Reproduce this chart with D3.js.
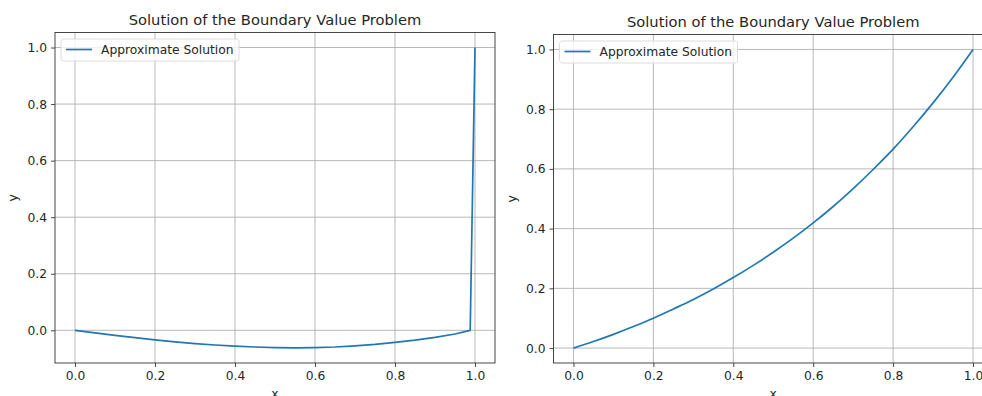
<!DOCTYPE html>
<html>
<head>
<meta charset="utf-8">
<script src="https://cdn.jsdelivr.net/npm/d3@7"></script>
<style>
  html, body { margin: 0; padding: 0; background: #fff; overflow: hidden; }
  svg { display: block; font-family: "DejaVu Sans", sans-serif; }
</style>
</head>
<body>
<svg id="chart" width="982" height="396"></svg>
<script>
// ---- data ----
const titleText = "Solution of the Boundary Value Problem";
const legendLabel = "Approximate Solution";
const xTicks = [0.0, 0.2, 0.4, 0.6, 0.8, 1.0];
const yTicks = [0.0, 0.2, 0.4, 0.6, 0.8, 1.0];

const leftX = [0.0, 0.05, 0.1, 0.15, 0.2, 0.25, 0.3, 0.35, 0.4, 0.45, 0.5, 0.55, 0.6, 0.65, 0.7, 0.75, 0.8, 0.85, 0.9, 0.95, 0.988, 1.0];
const leftY = [0.0, -0.009, -0.018, -0.026, -0.034, -0.041, -0.047, -0.052, -0.056, -0.059, -0.061, -0.062, -0.061, -0.059, -0.055, -0.050, -0.043, -0.035, -0.025, -0.013, 0.0, 1.0];

const rightX = [0.0, 0.05, 0.1, 0.15, 0.2, 0.25, 0.3, 0.35, 0.4, 0.45, 0.5, 0.55, 0.6, 0.65, 0.7, 0.75, 0.8, 0.85, 0.9, 0.95, 1.0];
const rightY = [0.0, 0.022, 0.046, 0.072, 0.100, 0.131, 0.163, 0.198, 0.236, 0.277, 0.321, 0.368, 0.419, 0.474, 0.534, 0.598, 0.666, 0.741, 0.821, 0.907, 1.0];

// ---- drawing ----
const svg = d3.select("#chart");
const lineColor = "#1f77b4";
const textColor = "#262626";
const tickFont = "12.3px";
const titleFont = "14.7px";

const panels = [
  { xs: leftX, ys: leftY, curve: d3.curveLinear, left: 55, right: 495, top: 32.5, bottom: 363, xDom: [-0.05, 1.05], yDom: [-0.1156, 1.0531], titleY: 25, ylabX: 17 },
  { xs: rightX, ys: rightY, curve: d3.curveMonotoneX, left: 553.5, right: 993, top: 34.5, bottom: 363, xDom: [-0.05, 1.05], yDom: [-0.05, 1.05], titleY: 27, ylabX: 516 }
];

panels.forEach(p => {
  const x = d3.scaleLinear().domain(p.xDom).range([p.left, p.right]);
  const y = d3.scaleLinear().domain(p.yDom).range([p.bottom, p.top]);
  const g = svg.append("g");

  // grid
  g.append("g").selectAll("line").data(xTicks).join("line")
    .attr("x1", d => x(d)).attr("x2", d => x(d))
    .attr("y1", p.top).attr("y2", p.bottom)
    .attr("stroke", "#b0b0b0").attr("stroke-width", 0.9);
  g.append("g").selectAll("line").data(yTicks).join("line")
    .attr("x1", p.left).attr("x2", p.right)
    .attr("y1", d => y(d)).attr("y2", d => y(d))
    .attr("stroke", "#b0b0b0").attr("stroke-width", 0.9);

  // line
  const data = p.xs.map((v, i) => [v, p.ys[i]]);
  g.append("path").datum(data)
    .attr("fill", "none").attr("stroke", lineColor).attr("stroke-width", 1.7)
    .attr("stroke-linejoin", "round").attr("stroke-linecap", "butt")
    .attr("d", d3.line().x(d => x(d[0])).y(d => y(d[1])).curve(p.curve));

  // axes
  const xAxis = d3.axisBottom(x).tickValues(xTicks).tickFormat(d3.format(".1f")).tickSize(4).tickPadding(4);
  const yAxis = d3.axisLeft(y).tickValues(yTicks).tickFormat(d3.format(".1f")).tickSize(4).tickPadding(4);
  const gx = g.append("g").attr("transform", `translate(0,${p.bottom})`).call(xAxis);
  const gy = g.append("g").attr("transform", `translate(${p.left},0)`).call(yAxis);
  [gx, gy].forEach(a => {
    a.select(".domain").remove();
    a.selectAll(".tick line").attr("stroke", "#333").attr("stroke-width", 0.9);
    a.selectAll(".tick text").attr("fill", textColor).style("font-size", tickFont).style("font-family", "DejaVu Sans");
  });

  // frame
  g.append("rect").attr("x", p.left).attr("y", p.top)
    .attr("width", p.right - p.left).attr("height", p.bottom - p.top)
    .attr("fill", "none").attr("stroke", "#333").attr("stroke-width", 0.9);

  // title
  g.append("text").attr("x", (p.left + p.right) / 2).attr("y", p.titleY)
    .attr("text-anchor", "middle").attr("fill", textColor)
    .style("font-size", titleFont).text(titleText);

  // axis labels
  g.append("text").attr("x", (p.left + p.right) / 2).attr("y", p.bottom + 35)
    .attr("text-anchor", "middle").attr("fill", textColor)
    .style("font-size", tickFont).text("x");
  g.append("text").attr("transform", `translate(${p.ylabX},${(p.top + p.bottom) / 2}) rotate(-90)`)
    .attr("text-anchor", "middle").attr("fill", textColor)
    .style("font-size", tickFont).text("y");

  // legend
  const lx = p.left + 6, ly = p.top + 6.5;
  const lg = g.append("g");
  lg.append("rect").attr("x", lx).attr("y", ly).attr("width", 178).attr("height", 22)
    .attr("rx", 2.5).attr("fill", "rgba(255,255,255,0.8)").attr("stroke", "#d9d9d9").attr("stroke-width", 0.9);
  lg.append("line").attr("x1", lx + 5).attr("x2", lx + 31).attr("y1", ly + 10.5).attr("y2", ly + 10.5)
    .attr("stroke", lineColor).attr("stroke-width", 1.7);
  lg.append("text").attr("x", lx + 40).attr("y", ly + 15).attr("fill", textColor)
    .style("font-size", tickFont).text(legendLabel);
});
</script>
</body>
</html>
